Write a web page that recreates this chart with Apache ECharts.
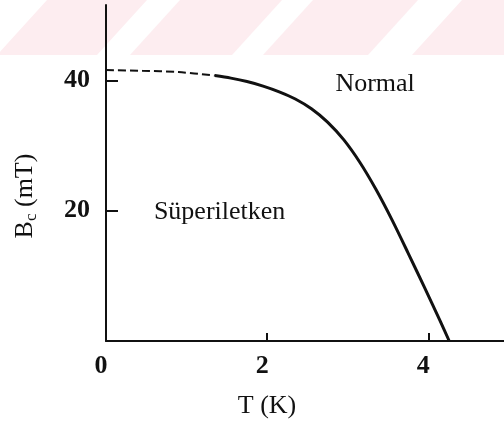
<!DOCTYPE html>
<html>
<head>
<meta charset="utf-8">
<script src="https://cdn.jsdelivr.net/npm/echarts@6/dist/echarts.min.js"></script>
<style>html,body{margin:0;padding:0;background:#fff}#c{width:504px;height:424px}</style>
</head>
<body>
<div id="c"></div>
<script>
// Extrapolated (dashed) part of the critical field curve
var dashedT = [0, 0.45, 0.9, 1.35];
var dashedB = [41.6, 41.5, 41.3, 40.76];
// Measured (solid) part
var solidT = [1.35, 1.55, 1.75, 1.95, 2.15, 2.35, 2.55, 2.75, 2.95, 3.15, 3.35, 3.55, 3.75, 3.95, 4.15, 4.26];
var solidB = [40.76, 40.37, 39.85, 39.15, 38.27, 37.17, 35.67, 33.62, 30.92, 27.45, 23.3, 18.6, 13.5, 8.3, 3.0, 0];
// Tick labels
var xTicks = [0, 2, 4];
var yTicks = [20, 40];
// Region annotations [T, B, text]
var regionLabels = [[3.34, 39.5, 'Normal'], [1.41, 19.8, 'Süperiletken']];

function pairs(xs, ys) { return xs.map(function (x, i) { return [x, ys[i]]; }); }

var serif = 'Liberation Serif';
var chart = echarts.init(document.getElementById('c'));

// faint watermark stripes
var stripes = [[-3, 97], [130, 232], [263, 368], [412, 515]];
var graphics = stripes.map(function (s) {
  return {
    type: 'polygon', z: -10, silent: true,
    shape: { points: [[s[0], 55], [s[1], 55], [s[1] + 50, 0], [s[0] + 50, 0]] },
    style: { fill: '#fdedf0' }
  };
});

chart.setOption({
  backgroundColor: '#ffffff',
  animation: false,
  graphic: graphics,
  grid: { left: 106, right: 0, top: 5, bottom: 81 },
  xAxis: {
    type: 'value', min: 0, max: 4.94, interval: 2,
    name: 'T (K)', nameLocation: 'middle', nameGap: 52,
    nameTextStyle: { fontFamily: serif, fontSize: 26, color: '#111', padding: [0, 76, 0, 0] },
    axisLine: { lineStyle: { color: '#111', width: 2 } },
    axisTick: { inside: true, length: 8, customValues: [2, 4], lineStyle: { color: '#111', width: 2 } },
    axisLabel: { customValues: xTicks, margin: 12, fontFamily: serif, fontSize: 26, fontWeight: 'bold', color: '#111', padding: [0, 10, 0, 0] },
    splitLine: { show: false }
  },
  yAxis: {
    type: 'value', min: 0, max: 51.6, interval: 20,
    name: '{b|B}{s|c}{b| (mT)}', nameLocation: 'middle', nameGap: 66,
    nameTextStyle: {
      padding: [0, 46, 0, 0],
      rich: {
        b: { fontFamily: serif, fontSize: 26, color: '#111' },
        s: { fontFamily: serif, fontSize: 17, color: '#111', verticalAlign: 'bottom', padding: [12, 0, 0, 0] }
      }
    },
    axisLine: { lineStyle: { color: '#111', width: 2 } },
    axisTick: { inside: true, length: 12, customValues: yTicks, lineStyle: { color: '#111', width: 2 } },
    axisLabel: { customValues: yTicks, margin: 16, fontFamily: serif, fontSize: 26, fontWeight: 'bold', color: '#111', padding: [6, 0, 0, 0] },
    splitLine: { show: false }
  },
  series: [
    {
      type: 'line', data: pairs(dashedT, dashedB), smooth: 0.3, symbol: 'none',
      lineStyle: { color: '#111', width: 2, type: [8, 4] }
    },
    {
      type: 'line', data: pairs(solidT, solidB), smooth: 0.3, symbol: 'none',
      lineStyle: { color: '#111', width: 3 }
    },
    {
      type: 'scatter', symbolSize: 0, itemStyle: { color: 'rgba(0,0,0,0)', opacity: 1 },
      data: regionLabels.map(function (r) { return { value: [r[0], r[1]], name: r[2] }; }),
      label: {
        show: true, position: 'inside', formatter: '{b}', opacity: 1,
        fontFamily: serif, fontSize: 26, color: '#111', textBorderWidth: 0
      }
    }
  ]
});
</script>
</body>
</html>
